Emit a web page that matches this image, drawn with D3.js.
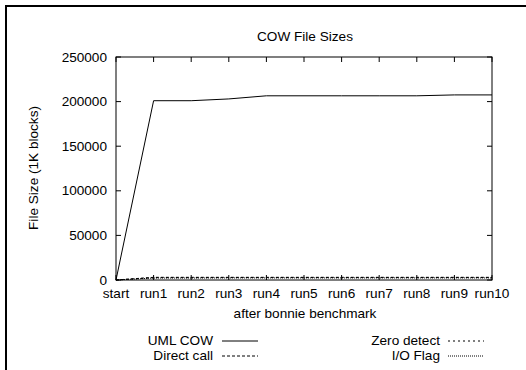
<!DOCTYPE html>
<html>
<head>
<meta charset="utf-8">
<script src="https://cdn.jsdelivr.net/npm/d3@7"></script>
<style>
	html, body { margin: 0; padding: 0; background: #fff; overflow: hidden; }
	svg { display: block; }
	text { font-family: "Liberation Sans", Arial, sans-serif; font-size: 13.6px; fill: #000; }
</style>
</head>
<body>
<div class="content"></div>
<script>
(function() {
	var runs = ["start", "run1", "run2", "run3", "run4", "run5", "run6", "run7", "run8", "run9", "run10"];
	var yTicks = [0, 50000, 100000, 150000, 200000, 250000];

	// file sizes in 1K blocks
	var umlCow = [0, 201000, 201000, 203000, 206500, 206500, 206500, 206500, 206500, 207500, 207500];
	var directCall = [0, 3000, 3000, 3000, 3000, 3000, 3000, 3000, 3000, 3000, 3000];
	var zeroDetect = [0, 2600, 2600, 2700, 2700, 2700, 2700, 2700, 2700, 2700, 2700];
	var ioFlag = [0, 2200, 2200, 2300, 2300, 2300, 2300, 2300, 2300, 2300, 2300];

	var series = [
		{ name: "UML COW", values: umlCow, dash: null },
		{ name: "Direct call", values: directCall, dash: "3,2" },
		{ name: "Zero detect", values: zeroDetect, dash: "2,3" },
		{ name: "I/O Flag", values: ioFlag, dash: "1,1" }
	];

	var svg = d3.select(".content")
		.append("svg")
		.attr("width", 526)
		.attr("height", 370);

	// outer frame (only left and top edges fall inside the picture)
	svg.append("line")
		.attr("x1", 6).attr("x2", 526)
		.attr("y1", 6).attr("y2", 6)
		.attr("stroke", "#000").attr("stroke-width", 2);
	svg.append("line")
		.attr("x1", 6).attr("x2", 6)
		.attr("y1", 5).attr("y2", 370)
		.attr("stroke", "#000").attr("stroke-width", 2);

	var left = 116, right = 492, top = 57, bottom = 280;

	var x = d3.scalePoint().domain(runs).range([left, right]);
	var y = d3.scaleLinear().domain([0, 250000]).range([bottom, top]);

	var g = svg.append("g");

	// inward ticks on all four sides
	var tick = 5;
	g.selectAll("line.xb").data(runs).enter().append("line")
		.attr("x1", function(d) { return x(d); }).attr("x2", function(d) { return x(d); })
		.attr("y1", bottom).attr("y2", bottom - tick)
		.attr("stroke", "#000");
	g.selectAll("line.xt").data(runs).enter().append("line")
		.attr("x1", function(d) { return x(d); }).attr("x2", function(d) { return x(d); })
		.attr("y1", top).attr("y2", top + tick)
		.attr("stroke", "#000");
	g.selectAll("line.yl").data(yTicks).enter().append("line")
		.attr("x1", left).attr("x2", left + tick)
		.attr("y1", function(d) { return y(d); }).attr("y2", function(d) { return y(d); })
		.attr("stroke", "#000");
	g.selectAll("line.yr").data(yTicks).enter().append("line")
		.attr("x1", right).attr("x2", right - tick)
		.attr("y1", function(d) { return y(d); }).attr("y2", function(d) { return y(d); })
		.attr("stroke", "#000");

	// tick labels
	g.selectAll("text.xl").data(runs).enter().append("text")
		.text(function(d) { return d; })
		.attr("x", function(d) { return x(d); })
		.attr("y", 298)
		.attr("text-anchor", "middle");
	g.selectAll("text.yl").data(yTicks).enter().append("text")
		.text(function(d) { return d; })
		.attr("x", 107)
		.attr("y", function(d) { return y(d) + 4.5; })
		.attr("text-anchor", "end");

	// plot border
	g.append("rect")
		.attr("x", left).attr("y", top)
		.attr("width", right - left).attr("height", bottom - top)
		.attr("fill", "none").attr("stroke", "#000");

	var line = d3.line()
		.x(function(d, i) { return x(runs[i]); })
		.y(function(d) { return y(d); });

	g.selectAll("path.series").data(series).enter().append("path")
		.attr("d", function(d) { return line(d.values); })
		.attr("fill", "none")
		.attr("stroke", "#000")
		.attr("stroke-width", 1)
		.attr("stroke-dasharray", function(d) { return d.dash; });

	svg.append("text")
		.text("COW File Sizes")
		.attr("x", 305)
		.attr("y", 41)
		.attr("text-anchor", "middle");

	svg.append("text")
		.text("after bonnie benchmark")
		.attr("x", 305)
		.attr("y", 318)
		.attr("text-anchor", "middle");

	svg.append("text")
		.text("File Size (1K blocks)")
		.attr("transform", "translate(38,168) rotate(-90)")
		.attr("text-anchor", "middle");

	// legend, two columns
	var legendPos = [
		{ tx: 213, lx: 222, ty: 345 },
		{ tx: 213, lx: 222, ty: 360 },
		{ tx: 440, lx: 448, ty: 345 },
		{ tx: 440, lx: 448, ty: 360 }
	];
	series.forEach(function(s, i) {
		var p = legendPos[i];
		svg.append("text")
			.text(s.name)
			.attr("x", p.tx)
			.attr("y", p.ty)
			.attr("text-anchor", "end");
		svg.append("line")
			.attr("x1", p.lx).attr("x2", p.lx + 36)
			.attr("y1", p.ty - 4).attr("y2", p.ty - 4)
			.attr("stroke", "#000")
			.attr("stroke-dasharray", s.dash);
	});
}());
</script>
</body>
</html>
